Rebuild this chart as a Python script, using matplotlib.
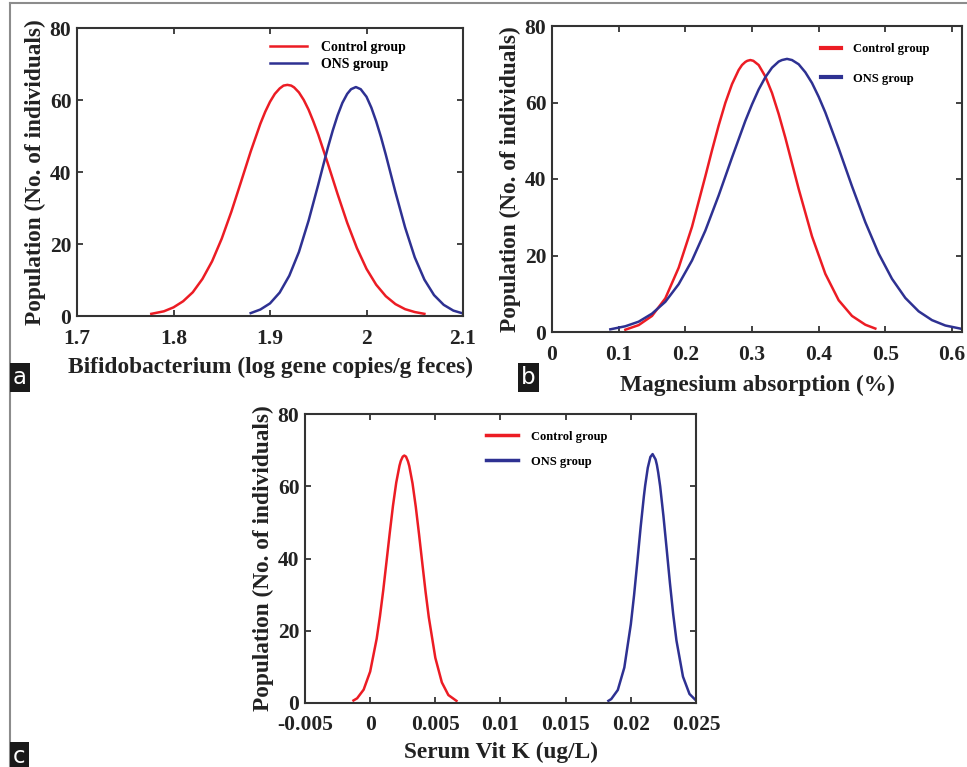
import matplotlib
matplotlib.use("Agg")
import matplotlib.pyplot as plt
from matplotlib.lines import Line2D

plt.rcParams['font.family'] = ['Liberation Serif', 'DejaVu Serif']
plt.rcParams['font.weight'] = 'bold'

RED = '#ec1c24'
BLUE = '#2e3192'

# Panel a - Bifidobacterium
a_ctrl_x = [1.777, 1.79, 1.80, 1.81, 1.82, 1.83, 1.84, 1.85, 1.86, 1.87, 1.88, 1.89, 1.895, 1.90,
            1.905, 1.91, 1.914, 1.918, 1.922, 1.925, 1.93, 1.935, 1.94, 1.945, 1.95, 1.96, 1.97,
            1.98, 1.99, 2.00, 2.01, 2.02, 2.03, 2.04, 2.05, 2.06]
a_ctrl_y = [0.6, 1.3, 2.4, 4.1, 6.6, 10.3, 15.2, 21.5, 29.0, 37.3, 45.7, 53.4, 56.7, 59.5,
            61.7, 63.2, 64.0, 64.2, 64.0, 63.5, 62.1, 60.0, 57.3, 54.0, 50.4, 42.3, 33.9,
            25.9, 18.9, 13.1, 8.7, 5.5, 3.3, 1.9, 1.1, 0.6]
a_ons_x = [1.88, 1.89, 1.90, 1.91, 1.92, 1.93, 1.94, 1.95, 1.955, 1.96, 1.965, 1.97, 1.975, 1.98,
           1.984, 1.989, 1.994, 2.00, 2.005, 2.01, 2.015, 2.02, 2.025, 2.03, 2.04, 2.05, 2.06,
           2.07, 2.08, 2.09, 2.10]
a_ons_y = [0.8, 1.8, 3.5, 6.5, 11.2, 17.8, 26.5, 36.5, 41.7, 46.8, 51.5, 55.7, 59.2, 61.7,
           63.0, 63.6, 63.0, 60.9, 57.9, 54.1, 49.7, 44.8, 39.6, 34.4, 24.6, 16.3, 10.1,
           5.8, 3.1, 1.5, 0.7]

# Panel b - Magnesium absorption
b_ctrl_x = [0.11, 0.13, 0.15, 0.17, 0.19, 0.21, 0.23, 0.24, 0.25, 0.26, 0.27, 0.28, 0.285, 0.29,
            0.293, 0.2975, 0.302, 0.31, 0.32, 0.33, 0.34, 0.35, 0.36, 0.37, 0.39, 0.41, 0.43,
            0.45, 0.47, 0.485]
b_ctrl_y = [0.6, 1.8, 4.2, 8.8, 16.8, 27.5, 40.7, 47.5, 54.0, 59.9, 64.8, 68.5, 69.8, 70.6,
            70.9, 71.1, 70.9, 69.8, 66.8, 62.5, 57.0, 50.8, 44.1, 37.4, 25.0, 15.2, 8.3,
            4.2, 1.9, 0.9]
b_ons_x = [0.0875, 0.11, 0.13, 0.15, 0.17, 0.19, 0.21, 0.23, 0.25, 0.27, 0.29, 0.30, 0.31, 0.32,
           0.33, 0.34, 0.345, 0.3525, 0.36, 0.37, 0.38, 0.39, 0.40, 0.41, 0.43, 0.45, 0.47,
           0.49, 0.51, 0.53, 0.55, 0.57, 0.59, 0.615]
b_ons_y = [0.7, 1.5, 2.7, 4.8, 7.9, 12.5, 18.7, 26.5, 35.7, 45.6, 55.2, 59.5, 63.4, 66.6,
           69.1, 70.7, 71.1, 71.4, 71.1, 70.0, 67.9, 65.1, 61.5, 57.4, 48.0, 38.1, 28.7,
           20.5, 13.9, 8.9, 5.4, 3.1, 1.7, 0.8]

# Panel c - Serum Vit K
c_ctrl_x = [-0.00128, -0.001, -0.0005, 0.0, 0.0005, 0.00075, 0.001, 0.00125, 0.0015, 0.00175,
            0.002, 0.00225, 0.00235, 0.0025, 0.00262, 0.00275, 0.0029, 0.003, 0.00325, 0.0035,
            0.00375, 0.004, 0.00425, 0.0045, 0.005, 0.0055, 0.006, 0.00662]
c_ctrl_y = [0.7, 1.3, 3.7, 8.7, 17.8, 24.0, 31.1, 39.0, 47.0, 54.6,
            61.0, 65.7, 67.0, 68.2, 68.5, 68.2, 66.9, 65.6, 60.8, 54.3,
            46.7, 38.7, 30.8, 23.7, 12.5, 5.7, 2.2, 0.6]
c_ons_x = [0.01828, 0.0185, 0.019, 0.0195, 0.020, 0.02025, 0.0205, 0.02075, 0.021, 0.0211,
           0.0213, 0.0215, 0.02167, 0.0219, 0.022, 0.0221, 0.02225, 0.0225, 0.02275, 0.023,
           0.02325, 0.0235, 0.024, 0.0245, 0.025]
c_ons_y = [0.6, 1.1, 3.6, 9.8, 21.8, 29.9, 39.1, 48.6, 57.2, 60.2,
           65.1, 68.1, 68.9, 67.4, 65.9, 63.8, 60.0, 51.8, 42.6, 33.2,
           24.6, 17.3, 7.3, 2.5, 0.7]

fig = plt.figure(figsize=(9.67, 7.67), dpi=100)

# grey frame of the figure plate
fig.add_artist(Line2D([9.5 / 967, 9.5 / 967], [0, 1 - 3 / 767], color='#8c8c8c', lw=1.5))
fig.add_artist(Line2D([9.5 / 967, 1], [1 - 3 / 767, 1 - 3 / 767], color='#8c8c8c', lw=1.5))


def style_axes(ax, xlim, xticks, xticklabels, xlabel, xlabelpad):
    ax.set_xlim(xlim)
    ax.set_ylim(0, 80)
    ax.set_xticks(xticks)
    ax.set_xticklabels(xticklabels)
    ax.set_yticks([0, 20, 40, 60, 80])
    ax.tick_params(direction='in', top=True, right=True, length=4, width=1.2,
                   labelsize=15.5, colors='#222222')
    ax.tick_params(axis='x', pad=9)
    ax.tick_params(axis='y', pad=4)
    for s in ax.spines.values():
        s.set_linewidth(1.5)
        s.set_color('#333333')
    ax.set_xlabel(xlabel, fontsize=16.8, fontweight='bold', labelpad=xlabelpad, color='#222222')
    ax.set_ylabel('Population (No. of individuals)', fontsize=16.8, fontweight='bold',
                  labelpad=3, color='#222222')


def add_legend(ax, bbox, hlen, spacing, lw, size):
    h1 = Line2D([], [], color=RED, lw=lw)
    h2 = Line2D([], [], color=BLUE, lw=lw)
    ax.legend([h1, h2], ['Control group', 'ONS group'], loc='upper left', bbox_to_anchor=bbox,
              frameon=False, handlelength=hlen, handletextpad=1.0, labelspacing=spacing,
              prop={'family': 'Liberation Serif', 'weight': 'bold', 'size': size}, borderaxespad=0)


def panel_tag(x, y, letter):
    fig.text(x, y, letter, fontsize=16.5, fontweight='normal', color='white', family='DejaVu Sans',
             ha='left', va='bottom', bbox=dict(boxstyle='square,pad=0.15', fc='#1a1a1a', ec='none'))


# panel a
ax1 = fig.add_axes([77 / 967, 1 - 316 / 767, 386 / 967, 288 / 767])
ax1.plot(a_ctrl_x, a_ctrl_y, color=RED, lw=1.8)
ax1.plot(a_ons_x, a_ons_y, color=BLUE, lw=1.8)
style_axes(ax1, (1.7, 2.1), [1.7, 1.8, 1.9, 2.0, 2.1], ['1.7', '1.8', '1.9', '2', '2.1'],
           'Bifidobacterium (log gene copies/g feces)', 6)
add_legend(ax1, (0.485, 0.975), 2.7, 0.3, 1.8, 10)

# panel b
ax2 = fig.add_axes([552 / 967, 1 - 332 / 767, 410 / 967, 306 / 767])
ax2.plot(b_ctrl_x, b_ctrl_y, color=RED, lw=1.8)
ax2.plot(b_ons_x, b_ons_y, color=BLUE, lw=1.8)
style_axes(ax2, (0, 0.615), [0, 0.1, 0.2, 0.3, 0.4, 0.5, 0.6],
           ['0', '0.1', '0.2', '0.3', '0.4', '0.5', '0.6'], 'Magnesium absorption (%)', 7.5)
add_legend(ax2, (0.643, 0.96), 1.6, 1.4, 3.0, 9)

# panel c
ax3 = fig.add_axes([305 / 967, 1 - 703 / 767, 391 / 967, 289 / 767])
ax3.plot(c_ctrl_x, c_ctrl_y, color=RED, lw=1.8)
ax3.plot(c_ons_x, c_ons_y, color=BLUE, lw=1.8)
style_axes(ax3, (-0.005, 0.025), [-0.005, 0, 0.005, 0.01, 0.015, 0.02, 0.025],
           ['-0.005', '0', '0.005', '0.01', '0.015', '0.02', '0.025'], 'Serum Vit K (ug/L)', 4.5)
add_legend(ax3, (0.45, 0.96), 2.6, 1.05, 2.5, 9)

panel_tag(13 / 967, 1 - 389 / 767, 'a')
panel_tag(521 / 967, 1 - 389 / 767, 'b')
panel_tag(13 / 967, 1 - 768 / 767, 'c')

fig.savefig('out.png', dpi=100)
